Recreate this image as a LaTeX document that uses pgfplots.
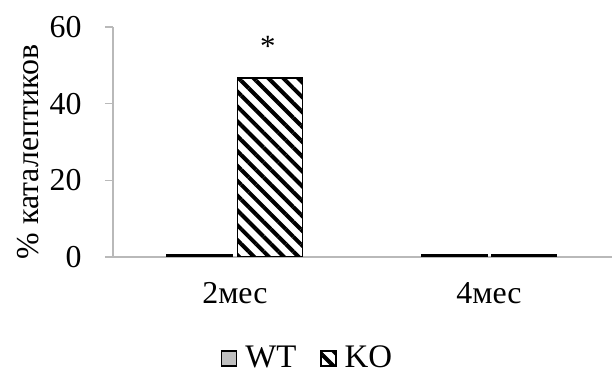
\documentclass[border=0pt]{standalone}
\usepackage{fontspec}
\setmainfont{Liberation Serif}
\usepackage{pgfplots}
\pgfplotsset{compat=1.18}
\usetikzlibrary{patterns.meta}
\definecolor{axgray}{RGB}{185,185,185}
\definecolor{wtgray}{RGB}{191,191,191}
\pgfplotsset{sqlegend/.style={legend image code/.code={\draw[##1, line width=1.2bp] (0bp,-9bp) rectangle (15bp,6bp);}}}
\begin{document}
\begin{tikzpicture}
\path[use as bounding box] (0,0) rectangle (612bp,374bp);
\begin{axis}[
  at={(113bp,117bp)}, anchor=south west,
  scale only axis, width=499bp, height=230bp,
  xmin=-0.48, xmax=1.484, ymin=0, ymax=60,
  axis x line=bottom, axis y line=left,
  axis line style={axgray, line width=1.2bp, -},
  ytick={0,20,40,60}, xtick={0,1}, xticklabels={2мес,4мес},
  tick align=outside, major tick length=8bp,
  ytick style={axgray, line width=1.2bp}, xtick style={draw=none},
  font=\fontsize{32}{35}\selectfont,
  /pgf/number format/assume math mode=true,
  yticklabel style={xshift=-20bp},
  xticklabel style={yshift=-14bp},
  ylabel={\% каталептиков},
  ylabel style={at={(axis description cs:-0.17,0.457)}, anchor=center},
  legend style={at={(axis description cs:0.39,-0.435)}, anchor=center, draw=none,
    legend columns=2, font=\fontsize{33}{36}\selectfont,
    /tikz/every odd column/.append style={column sep=6bp},
    /tikz/every even column/.append style={column sep=22bp}},
]
\addplot[ybar, bar width=65bp, bar shift=-35bp, fill=wtgray, draw=black, line width=2bp, sqlegend]
  coordinates {(0,0.5) (1,0.5)};
\addplot[ybar, bar width=65bp, bar shift=35bp, draw=black, line width=1.5bp,
  pattern={Lines[angle=-45,distance=10.5bp,line width=4bp]}, sqlegend]
  coordinates {(0,46.7) (1,0.5)};
\legend{WT,KO}
\node[font=\fontsize{31}{34}\selectfont] at (axis cs:0,55) [xshift=33bp] {*};
\end{axis}
\end{tikzpicture}
\end{document}
